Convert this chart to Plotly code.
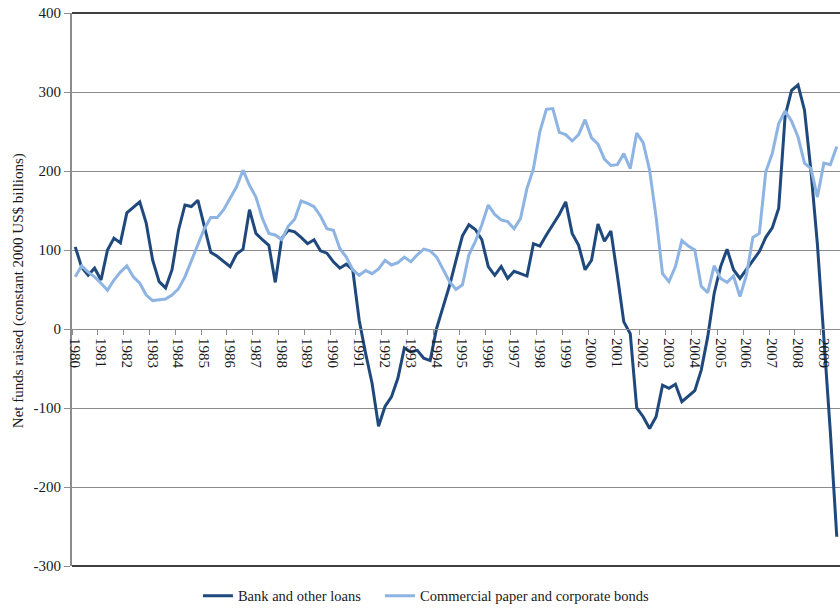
import plotly.graph_objects as go

years = list(range(1980, 2010))
quarters = [f"{y}Q{q}" for y in years for q in range(1, 5)][:119]

bank_loans = [
    104, 78, 68, 77, 62, 100, 115, 109, 147, 154, 161, 134, 87, 60, 52, 75,
    125, 157, 155, 163, 129, 97, 92, 86, 79, 95, 101, 151, 121, 113, 106, 59,
    115, 125, 123, 116, 108, 113, 99, 96, 85, 77, 82, 75, 11, -31, -69, -123,
    -98, -86, -62, -24, -29, -27, -37, -40, 1, 28, 55, 87, 118, 132, 126, 113,
    79, 68, 79, 64, 73, 70, 67, 108, 105, 119, 132, 145, 161, 121, 106, 75,
    87, 133, 111, 124, 68, 9, -6, -100, -111, -126, -111, -71, -75, -70, -92, -85,
    -78, -52, -10, 45, 79, 101, 75, 64, 75, 87, 98, 116, 128, 153, 270, 302,
    309, 277, 200, 107, -10, -130, -263,
]

cp_bonds = [
    66, 80, 72, 66, 58, 49, 62, 72, 80, 66, 58, 43, 36, 37, 38, 43,
    51, 66, 87, 108, 127, 141, 141, 151, 165, 180, 201, 182, 167, 140, 121, 119,
    113, 130, 139, 162, 159, 155, 143, 127, 125, 102, 91, 75, 68, 74, 70, 76,
    87, 81, 84, 91, 85, 94, 101, 99, 91, 75, 60, 50, 56, 94, 111, 132,
    157, 145, 138, 136, 127, 140, 178, 203, 250, 278, 279, 249, 246, 238, 246, 265,
    242, 234, 215, 207, 208, 222, 203, 248, 236, 201, 142, 70, 60, 79, 112, 105,
    100, 54, 46, 80, 64, 59, 67, 41, 68, 116, 121, 199, 222, 260, 276, 263,
    243, 210, 203, 167, 210, 208, 231,
]

y_ticks = [-300, -200, -100, 0, 100, 200, 300, 400]
y_tick_labels = ["-300", "-200", "-100", "0", "100", "200", "300", "400"]
series_names = ["Bank and other loans", "Commercial paper and corporate bonds"]
y_title = "Net funds raised (constant 2000 US$ billions)"

DARK = "#1F497D"
LIGHT = "#8DB4E2"
GRID = "#8C8C8C"
FONT = "Liberation Serif, Times New Roman, serif"

xs = list(range(len(quarters)))
year_idx = [i for i, q in enumerate(quarters) if q.endswith("Q1")]

fig = go.Figure()
fig.add_trace(go.Scatter(x=xs, y=bank_loans, mode="lines", name=series_names[0],
                         line=dict(color=DARK, width=3), legend="legend"))
fig.add_trace(go.Scatter(x=xs, y=cp_bonds, mode="lines", name=series_names[1],
                         line=dict(color=LIGHT, width=3), legend="legend2"))

ymin, ymax = y_ticks[0], y_ticks[-1]
zero_pos = (0 - ymin) / (ymax - ymin)

legend_common = dict(orientation="h", xanchor="left", y=-0.054, yanchor="middle",
                     font=dict(size=14.5, family=FONT, color="#1a1a1a"), itemwidth=30,
                     bgcolor="rgba(0,0,0,0)")

fig.update_layout(
    width=840, height=608,
    margin=dict(l=72, r=0, t=13, b=42, autoexpand=False),
    paper_bgcolor="white", plot_bgcolor="white",
    font=dict(family=FONT, size=15, color="#1a1a1a"),
    showlegend=True,
    legend=dict(x=0.164, **legend_common),
    legend2=dict(x=0.401, **legend_common),
    xaxis=dict(
        range=[-0.5, len(quarters) - 0.5],
        tickmode="array",
        tickvals=[i - 0.5 for i in year_idx],
        ticktext=[str(y) for y in years],
        ticklabelshift=3,
        tickangle=90,
        ticks="outside", ticklen=5, tickcolor=GRID,
        showgrid=False, zeroline=False,
        showline=True, linecolor=GRID, linewidth=1,
        anchor="free", position=zero_pos,
        tickfont=dict(size=15, family=FONT),
        automargin=False,
        fixedrange=True,
    ),
    yaxis=dict(
        range=[ymin, ymax],
        tickmode="array", tickvals=y_ticks, ticktext=y_tick_labels,
        showgrid=True, gridcolor=GRID, gridwidth=1,
        zeroline=False,
        showline=True, linecolor=GRID, linewidth=2,
        ticks="outside", ticklen=6, tickcolor=GRID,
        tickfont=dict(size=15, family=FONT),
        automargin=False,
        domain=[0, 1],
    ),
    shapes=[
        dict(type="line", xref="paper", yref="paper", x0=0, x1=1, y0=1, y1=1,
             line=dict(color="black", width=1.5), layer="above"),
        dict(type="line", xref="paper", yref="paper", x0=0, x1=1, y0=0, y1=0,
             line=dict(color="black", width=1.5), layer="above"),
    ],
    annotations=[
        dict(text=y_title, xref="paper", yref="paper", x=-0.0703, y=0.497,
             textangle=-90, showarrow=False, xanchor="center", yanchor="middle",
             font=dict(size=15, family=FONT, color="#1a1a1a")),
    ],
)

fig.write_html("out.html", config={"displayModeBar": False},
               post_script="document.body.style.margin='0px';")
